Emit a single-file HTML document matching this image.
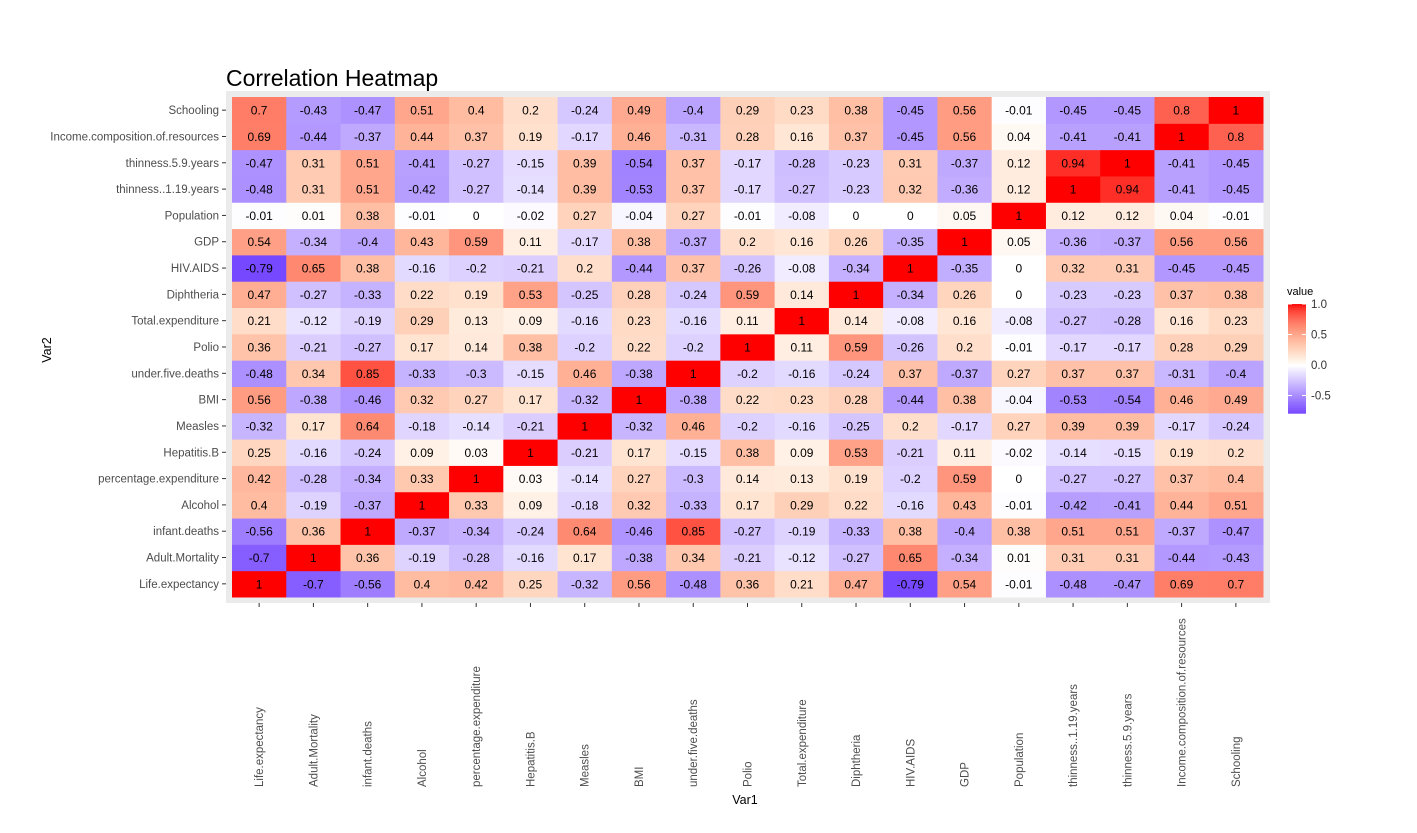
<!DOCTYPE html>
<html><head><meta charset="utf-8"><style>
body{margin:0;background:#fff;}
svg text{font-family:"Liberation Sans",Arial,sans-serif;}
</style></head><body>
<svg id="chart" width="1417" height="828" xmlns="http://www.w3.org/2000/svg"></svg>
<script>
const variables = ["Life.expectancy","Adult.Mortality","infant.deaths","Alcohol","percentage.expenditure","Hepatitis.B","Measles","BMI","under.five.deaths","Polio","Total.expenditure","Diphtheria","HIV.AIDS","GDP","Population","thinness..1.19.years","thinness.5.9.years","Income.composition.of.resources","Schooling"];
const corrValues = [
[1,-0.7,-0.56,0.4,0.42,0.25,-0.32,0.56,-0.48,0.36,0.21,0.47,-0.79,0.54,-0.01,-0.48,-0.47,0.69,0.7],
[-0.7,1,0.36,-0.19,-0.28,-0.16,0.17,-0.38,0.34,-0.21,-0.12,-0.27,0.65,-0.34,0.01,0.31,0.31,-0.44,-0.43],
[-0.56,0.36,1,-0.37,-0.34,-0.24,0.64,-0.46,0.85,-0.27,-0.19,-0.33,0.38,-0.4,0.38,0.51,0.51,-0.37,-0.47],
[0.4,-0.19,-0.37,1,0.33,0.09,-0.18,0.32,-0.33,0.17,0.29,0.22,-0.16,0.43,-0.01,-0.42,-0.41,0.44,0.51],
[0.42,-0.28,-0.34,0.33,1,0.03,-0.14,0.27,-0.3,0.14,0.13,0.19,-0.2,0.59,0,-0.27,-0.27,0.37,0.4],
[0.25,-0.16,-0.24,0.09,0.03,1,-0.21,0.17,-0.15,0.38,0.09,0.53,-0.21,0.11,-0.02,-0.14,-0.15,0.19,0.2],
[-0.32,0.17,0.64,-0.18,-0.14,-0.21,1,-0.32,0.46,-0.2,-0.16,-0.25,0.2,-0.17,0.27,0.39,0.39,-0.17,-0.24],
[0.56,-0.38,-0.46,0.32,0.27,0.17,-0.32,1,-0.38,0.22,0.23,0.28,-0.44,0.38,-0.04,-0.53,-0.54,0.46,0.49],
[-0.48,0.34,0.85,-0.33,-0.3,-0.15,0.46,-0.38,1,-0.2,-0.16,-0.24,0.37,-0.37,0.27,0.37,0.37,-0.31,-0.4],
[0.36,-0.21,-0.27,0.17,0.14,0.38,-0.2,0.22,-0.2,1,0.11,0.59,-0.26,0.2,-0.01,-0.17,-0.17,0.28,0.29],
[0.21,-0.12,-0.19,0.29,0.13,0.09,-0.16,0.23,-0.16,0.11,1,0.14,-0.08,0.16,-0.08,-0.27,-0.28,0.16,0.23],
[0.47,-0.27,-0.33,0.22,0.19,0.53,-0.25,0.28,-0.24,0.59,0.14,1,-0.34,0.26,0,-0.23,-0.23,0.37,0.38],
[-0.79,0.65,0.38,-0.16,-0.2,-0.21,0.2,-0.44,0.37,-0.26,-0.08,-0.34,1,-0.35,0,0.32,0.31,-0.45,-0.45],
[0.54,-0.34,-0.4,0.43,0.59,0.11,-0.17,0.38,-0.37,0.2,0.16,0.26,-0.35,1,0.05,-0.36,-0.37,0.56,0.56],
[-0.01,0.01,0.38,-0.01,0,-0.02,0.27,-0.04,0.27,-0.01,-0.08,0,0,0.05,1,0.12,0.12,0.04,-0.01],
[-0.48,0.31,0.51,-0.42,-0.27,-0.14,0.39,-0.53,0.37,-0.17,-0.27,-0.23,0.32,-0.36,0.12,1,0.94,-0.41,-0.45],
[-0.47,0.31,0.51,-0.41,-0.27,-0.15,0.39,-0.54,0.37,-0.17,-0.28,-0.23,0.31,-0.37,0.12,0.94,1,-0.41,-0.45],
[0.69,-0.44,-0.37,0.44,0.37,0.19,-0.17,0.46,-0.31,0.28,0.16,0.37,-0.45,0.56,0.04,-0.41,-0.41,1,0.8],
[0.7,-0.43,-0.47,0.51,0.4,0.2,-0.24,0.49,-0.4,0.29,0.23,0.38,-0.45,0.56,-0.01,-0.45,-0.45,0.8,1]
];
const legendTicks = [1.0,0.5,0.0,-0.5];
const legendTickLabels = ["1.0","0.5","0.0","-0.5"];

const NS="http://www.w3.org/2000/svg";
const svg=document.getElementById('chart');
function mk(tag,attrs,parent){const e=document.createElementNS(NS,tag);for(const k in attrs)e.setAttribute(k,attrs[k]);(parent||svg).appendChild(e);return e;}
const X0=232,X1=1263,Y0=97,Y1=597,n=variables.length;
const cw=(X1-X0)/n,ch=(Y1-Y0)/n;
const xPos=i=>X0+i*cw;
const yPos=j=>Y1-(j+1)*ch;
function color(v){
  if(v>=0){const t=Math.min(v,1);const g=255*Math.pow(1-t,0.6);const b=g*(0.82+0.18*Math.pow(1-t,3));return `rgb(255,${Math.round(g)},${Math.round(b)})`;}
  const t=Math.min(-v/0.79,1);
  return `rgb(${Math.round(255-(255-118)*t)},${Math.round(255-(255-72)*t)},255)`;
}
let e;
e=mk('text',{x:226,y:86,'font-size':23,fill:'#000'});e.textContent='Correlation Heatmap';


e=mk('rect',{x:226,y:91,width:1044,height:512,fill:'#ebebeb'});


const g=mk('g',{});


for(let r=0;r<n;r++){for(let c=0;c<n;c++){
  const v=corrValues[r][c];
  const rc=mk('rect',{x:xPos(c),y:yPos(r),width:cw+0.5,height:ch+0.5,fill:color(v)},g);
  
  
  const t=mk('text',{x:xPos(c)+cw/2,y:yPos(r)+ch/2+4.5,'text-anchor':'middle','font-size':12,fill:'#000'},g);
  t.textContent=String(v);
  
  
}}
for(let j=0;j<n;j++){
  const y=yPos(j)+ch/2;
  mk('line',{x1:222,x2:226,y1:y,y2:y,stroke:'#333'});
  const t=mk('text',{x:219,y:y+4,'text-anchor':'end','font-size':11.5,fill:'#4d4d4d'});
  t.textContent=variables[j];
  
  
}
for(let i=0;i<n;i++){
  const x=xPos(i)+cw/2;
  mk('line',{x1:x,x2:x,y1:603,y2:607,stroke:'#333'});
  const t=mk('text',{x:0,y:0,'font-size':11.5,fill:'#4d4d4d',transform:`translate(${x+4},787) rotate(-90)`});
  t.textContent=variables[i];
  
  
}
e=mk('text',{x:745,y:804,'text-anchor':'middle','font-size':12.5,fill:'#000'});e.textContent='Var1';


e=mk('text',{x:0,y:0,'text-anchor':'middle','font-size':12.5,fill:'#000',transform:'translate(51,350) rotate(-90)'});e.textContent='Var2';


const lg=mk('g',{});


e=mk('text',{x:1287,y:295,'font-size':11,fill:'#000'},lg);e.textContent='value';


const LY=v=>365-v*61;
const steps=60,vmin=-0.79,vmax=1;
for(let k=0;k<steps;k++){
  const v0=vmin+(vmax-vmin)*k/steps,v1=vmin+(vmax-vmin)*(k+1)/steps;
  mk('rect',{x:1288,y:LY(v1),width:18,height:LY(v0)-LY(v1)+0.5,fill:color((v0+v1)/2)},lg);
}
legendTicks.forEach((v,i)=>{
  mk('line',{x1:1288,x2:1292,y1:LY(v),y2:LY(v),stroke:'#fff'},lg);
  mk('line',{x1:1302,x2:1306,y1:LY(v),y2:LY(v),stroke:'#fff'},lg);
  const t=mk('text',{x:1311,y:LY(v)+4,'font-size':11.5,fill:'#333'},lg);
  t.textContent=legendTickLabels[i];
  
  
});
</script>
</body></html>
